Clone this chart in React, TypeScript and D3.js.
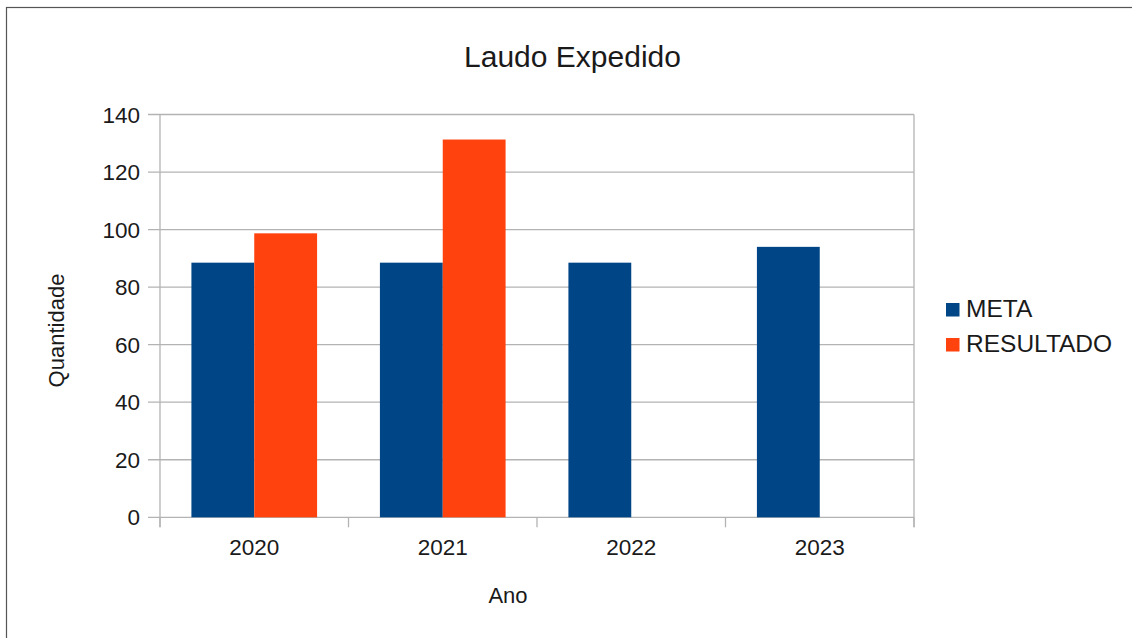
import React from "react";
import * as d3 from "d3";

const categories = ["2020", "2021", "2022", "2023"];
const seriesNames = ["META", "RESULTADO"];
const metaValues = [88.5, 88.5, 88.5, 94];
const resultadoValues: (number | null)[] = [98.7, 131.3, null, null];
const seriesColors = ["#004586", "#ff420e"];
const yTicks = [0, 20, 40, 60, 80, 100, 120, 140];

const W = 1132;
const H = 638;
const plot = { left: 160, right: 914, top: 114.5, bottom: 517.3 };
const FONT = "'Liberation Sans', Arial, sans-serif";
const TEXT = "#1a1a1a";
const GRID = "#b3b3b3";

export default function App() {
  const x0 = d3.scaleBand<string>().domain(categories).range([plot.left, plot.right]).paddingInner(0).paddingOuter(0);
  const x1 = d3.scaleBand<string>().domain(seriesNames).range([0, x0.bandwidth()]).paddingInner(0).paddingOuter(0.5);
  const y = d3.scaleLinear().domain([0, 140]).range([plot.bottom, plot.top]);
  const values = [metaValues, resultadoValues];
  const boundaries = [...categories.map((c) => x0(c)!), plot.right];

  return (
    <svg
      width={W}
      height={H}
      style={{ position: "absolute", left: 0, top: 0, background: "#fff" }}
      fontFamily={FONT}
    >
      <rect x={6.5} y={7.5} width={W + 20} height={H + 20} fill="#fff" stroke="#555" strokeWidth={1.2} />
      <text x={572.5} y={67} textAnchor="middle" fontSize={30} fill={TEXT}>
        Laudo Expedido
      </text>

      {yTicks.map((t) => (
        <g key={t}>
          <line x1={148} x2={plot.right} y1={y(t)} y2={y(t)} stroke={GRID} strokeWidth={1.3} />
          <text x={140} y={y(t) + 8} textAnchor="end" fontSize={22.5} fill={TEXT}>
            {t}
          </text>
        </g>
      ))}
      <line x1={plot.left} x2={plot.left} y1={plot.top} y2={plot.bottom + 10} stroke={GRID} strokeWidth={1.3} />
      <line x1={plot.right} x2={plot.right} y1={plot.top} y2={plot.bottom + 10} stroke={GRID} strokeWidth={1.3} />
      {boundaries.map((b, i) => (
        <line key={i} x1={b} x2={b} y1={plot.bottom} y2={plot.bottom + 10} stroke={GRID} strokeWidth={1.3} />
      ))}

      {categories.map((c, ci) => (
        <g key={c}>
          {seriesNames.map((s, si) => {
            const v = values[si][ci];
            if (v == null) return null;
            return (
              <rect
                key={s}
                x={x0(c)! + x1(s)!}
                y={y(v)}
                width={x1.bandwidth()}
                height={y(0) - y(v)}
                fill={seriesColors[si]}
              />
            );
          })}
          <text x={x0(c)! + x0.bandwidth() / 2} y={554.5} textAnchor="middle" fontSize={22.5} fill={TEXT}>
            {c}
          </text>
        </g>
      ))}

      <text x={508} y={602.5} textAnchor="middle" fontSize={22} fill={TEXT}>
        Ano
      </text>
      <text
        transform={`translate(64, 330.5) rotate(-90)`}
        textAnchor="middle"
        fontSize={22}
        fill={TEXT}
      >
        Quantidade
      </text>

      {seriesNames.map((s, i) => (
        <g key={s}>
          <rect x={946} y={303 + i * 35} width={13.5} height={13.5} fill={seriesColors[i]} />
          <text x={966} y={316.5 + i * 35} fontSize={24.5} fill={TEXT}>
            {s}
          </text>
        </g>
      ))}
    </svg>
  );
}
